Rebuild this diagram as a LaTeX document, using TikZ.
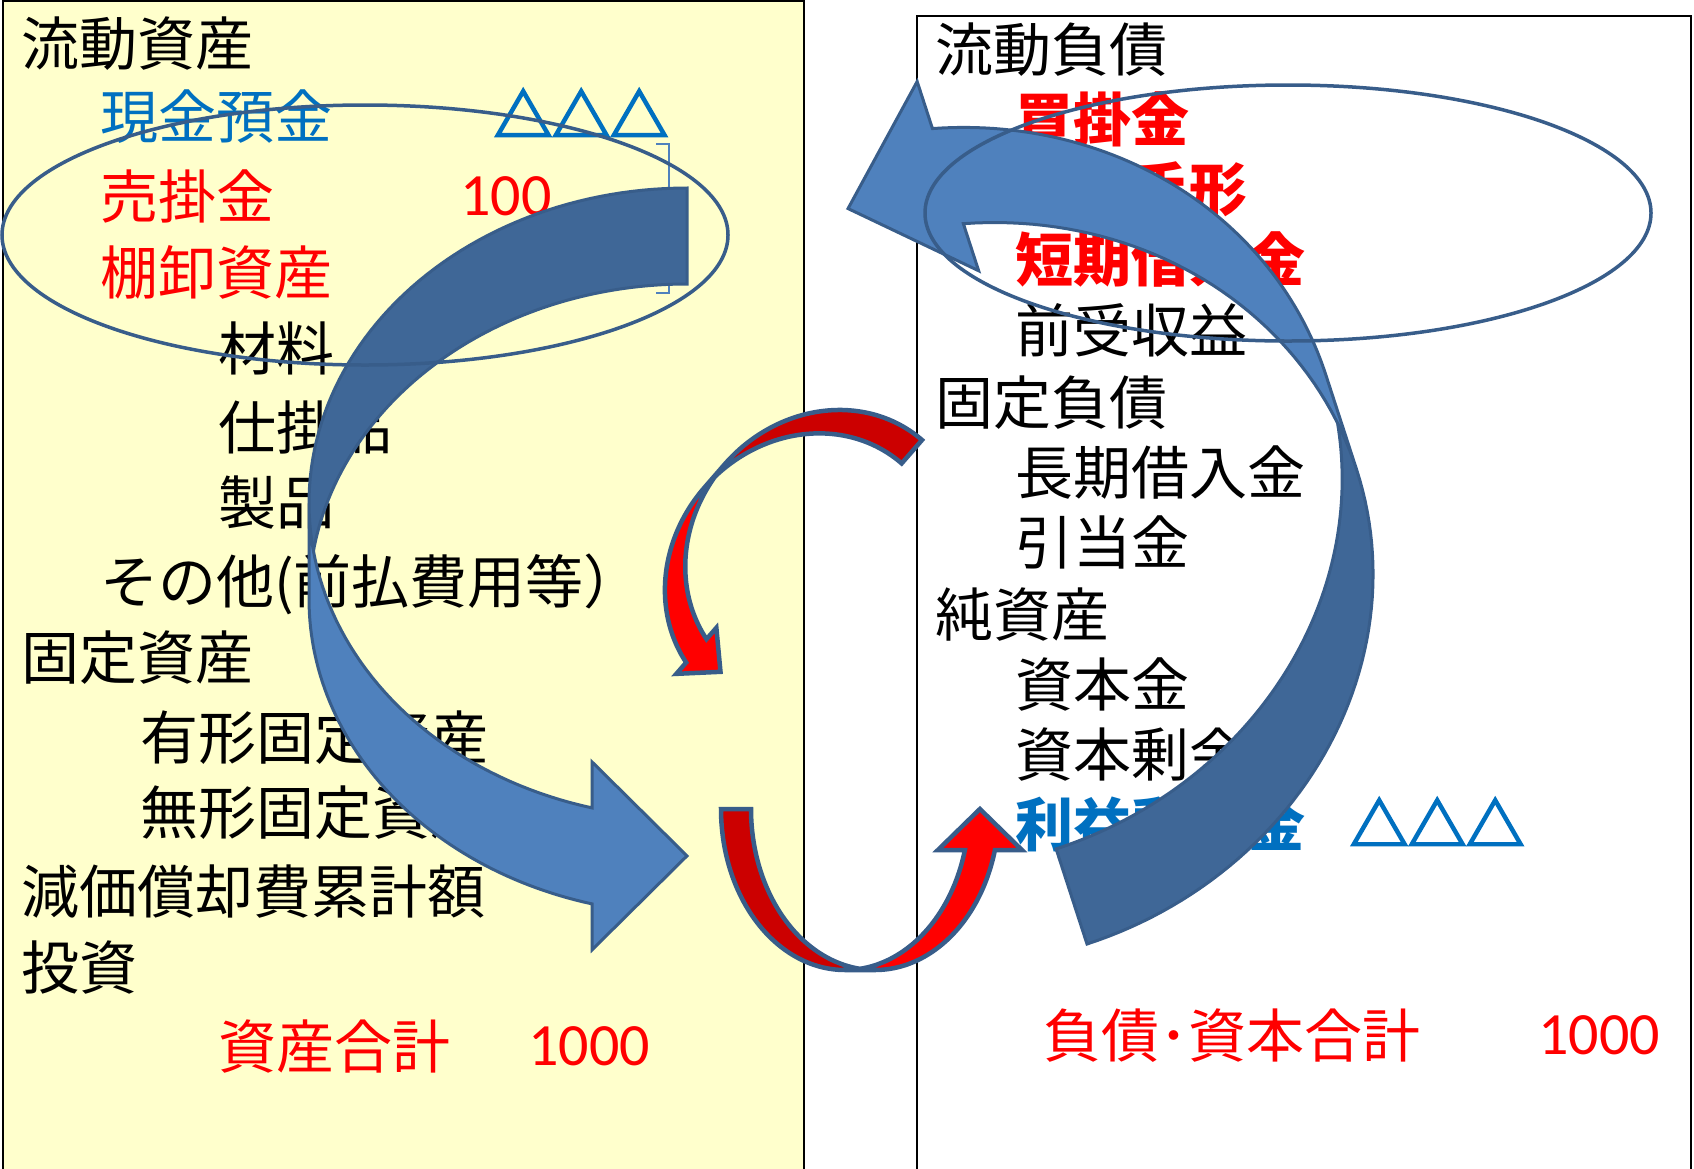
\documentclass[tikz,border=0pt]{standalone}
\usepackage{fontspec}
\newfontfamily\jp{Noto Sans CJK JP}
\newfontfamily\trif[FakeBold=4]{Noto Sans CJK JP}
\newfontfamily\numf{Carlito}
\usetikzlibrary{shapes.geometric}
\definecolor{boxyellow}{HTML}{FFFFCC}
\definecolor{txtblue}{HTML}{0070C0}
\definecolor{txtred}{HTML}{FF0000}
\definecolor{arrlight}{HTML}{4F81BD}
\definecolor{arrdark}{HTML}{3F6797}
\definecolor{arrline}{HTML}{385D8A}
\definecolor{redlight}{HTML}{FF0000}
\definecolor{reddark}{HTML}{CC0000}
\tikzset{
  lbl/.style={anchor=base west, inner sep=0pt, font=\jp\fontsize{58}{60}\selectfont},
  lblb/.style={anchor=base west, inner sep=0pt, font=\jp\bfseries\fontsize{58}{60}\selectfont},
  tri/.style={anchor=base west, inner sep=0pt, font=\trif\fontsize{58}{60}\selectfont},
  num/.style={anchor=base west, inner sep=0pt, font=\numf\fontsize{60}{62}\selectfont},
  bluelightfill/.style={fill=arrlight},
  bluedarkfill/.style={fill=arrdark},
  blueedge/.style={draw=arrline, line width=3pt},
  redlightfill/.style={fill=redlight},
  reddarkfill/.style={fill=reddark},
  rededge/.style={draw=arrline, line width=4.5pt},
  oval/.style={ellipse, draw=arrline, line width=3.5pt, inner sep=0pt, minimum width=726pt},
}
% #1 x, #2 y (tail outer point), #3 rotation, #4 w, #5 hR, #6 th, #7 ah, #8 aw, #9 palette
\newcommand{\CurvedArr}[9]{%
  \begin{scope}[shift={(#1,#2)}, rotate=#3]
    \pgfmathsetmacro\CAw{#4}
    \pgfmathsetmacro\CAh{#5}
    \pgfmathsetmacro\CAt{#6}
    \pgfmathsetmacro\CAa{#7}
    \pgfmathsetmacro\CAaw{#8}
    \pgfmathsetmacro\CAtf{180-acos(\CAa/\CAw)}
    \pgfmathsetmacro\CAyf{\CAh+\CAh*sin(\CAtf)}
    \pgfmathsetmacro\CAys{\CAyf+\CAt}
    \pgfmathsetmacro\CAdh{(\CAaw-\CAt)/2}
    \pgfmathsetmacro\CAyfour{\CAyf-\CAdh}
    \pgfmathsetmacro\CAyeight{\CAys+\CAdh}
    \pgfmathsetmacro\CAysix{(\CAyfour+\CAyeight)/2}
    \pgfmathsetmacro\CAti{180-asin(\CAt/(2*\CAh))}
    \pgfmathsetmacro\CAtib{180+asin(\CAt/(2*\CAh))}
    \fill[#9lightfill] plot[domain=180:\CAtf, samples=60] ({\CAw*cos(\x)}, {\CAh+\CAh*sin(\x)})
      -- (-\CAa,\CAyfour) -- (0,\CAysix) -- (-\CAa,\CAyeight)
      -- plot[domain=\CAtf:180, samples=60] ({\CAw*cos(\x)}, {\CAh+\CAt+\CAh*sin(\x)}) -- cycle;
    \fill[#9darkfill] plot[domain=270:\CAti, samples=80] ({\CAw*cos(\x)}, {\CAh+\CAh*sin(\x)})
      -- plot[domain=\CAtib:270, samples=80] ({\CAw*cos(\x)}, {\CAh+\CAt+\CAh*sin(\x)}) -- cycle;
    \draw[#9edge] plot[domain=\CAtib:270, samples=80] ({\CAw*cos(\x)}, {\CAh+\CAt+\CAh*sin(\x)})
      -- (0,0)
      -- plot[domain=270:\CAtf, samples=100] ({\CAw*cos(\x)}, {\CAh+\CAh*sin(\x)})
      -- (-\CAa,\CAyfour) -- (0,\CAysix) -- (-\CAa,\CAyeight)
      -- plot[domain=\CAtf:180, samples=60] ({\CAw*cos(\x)}, {\CAh+\CAt+\CAh*sin(\x)})
      -- (-\CAw,\CAh);
  \end{scope}}
\begin{document}
\begin{tikzpicture}[x=1pt,y=-1pt]
\useasboundingbox (0,0) rectangle (1694,1168);
\fill[white] (0,0) rectangle (1694,1168);
% panels
\draw[fill=boxyellow, draw=black, line width=1.5pt] (3,1) rectangle (804,1185);
\draw[fill=white, draw=black, line width=1.5pt] (917,16) rectangle (1691,1185);
% left texts
\node[lbl] (a1) at (21,65) {流動資産};
\node[lbl, txtblue] (a2) at (100,138) {現金預金};
\node[tri, txtblue] (a2v) at (494,137) {△△△};
\node[lbl, txtred] (a3) at (100,218) {売掛金};
\node[num, txtred] (a3v) at (460,215) {100};
\node[lbl, txtred] (a4) at (100,294) {棚卸資産};
\node[lbl] (a5) at (218,370) {材料};
\node[lbl] (a6) at (218,449) {仕掛品};
\node[lbl] (a7) at (218,524) {製品};
\node[lbl] (a8) at (100,603) {その他(前払費用等）};
\node[lbl] (a9) at (21,679) {固定資産};
\node[lbl] (a10) at (140,759) {有形固定資産};
\node[lbl] (a11) at (140,834) {無形固定資産};
\node[lbl] (a12) at (21,913) {減価償却費累計額};
\node[lbl] (a13) at (21,989) {投資};
\node[lbl, txtred] (a14) at (218,1068) {資産合計};
\node[num, txtred] (a14v) at (528,1065) {1000};
% right texts
\node[lbl] (b1) at (935,71) {流動負債};
\node[lblb, txtred] (b2) at (1015,141) {買掛金};
\node[lblb, txtred] (b3) at (1015,211) {支払手形};
\node[lblb, txtred] (b4) at (1015,281) {短期借入金};
\node[lbl] (b5) at (1015,352) {前受収益};
\node[lbl] (b6) at (935,424) {固定負債};
\node[lbl] (b7) at (1015,494) {長期借入金};
\node[lbl] (b8) at (1015,564) {引当金};
\node[lbl] (b9) at (935,636) {純資産};
\node[lbl] (b10) at (1015,706) {資本金};
\node[lbl] (b11) at (1015,776) {資本剰余金};
\node[lblb, txtblue] (b12) at (1015,846) {利益剰余金};
\node[tri, txtblue] (b12v) at (1350,846) {△△△};
\node[lbl, txtred] (b13) at (1043,1057) {負債･資本合計};
\node[num, txtred] (b13v) at (1538,1054) {1000};
% bracket
\draw[arrlight, line width=1.5pt] (656,144) -- (669,144) -- (669,293) -- (656,293);
% arrows
\CurvedArr{687}{188}{0}{378}{315}{96}{95}{188}{blue}
\CurvedArr{1087}{944}{198}{403}{368}{100}{105}{199}{blue}
\CurvedArr{922}{440}{-41}{133}{148}{31}{32}{61}{red}
\CurvedArr{721}{809}{90}{161}{124}{30}{41}{84}{red}
% ovals
\node[oval, minimum height=260pt] (ovalL) at (365,235) {};
\node[oval, minimum height=256pt] (ovalR) at (1288,213) {};
\end{tikzpicture}
\end{document}
